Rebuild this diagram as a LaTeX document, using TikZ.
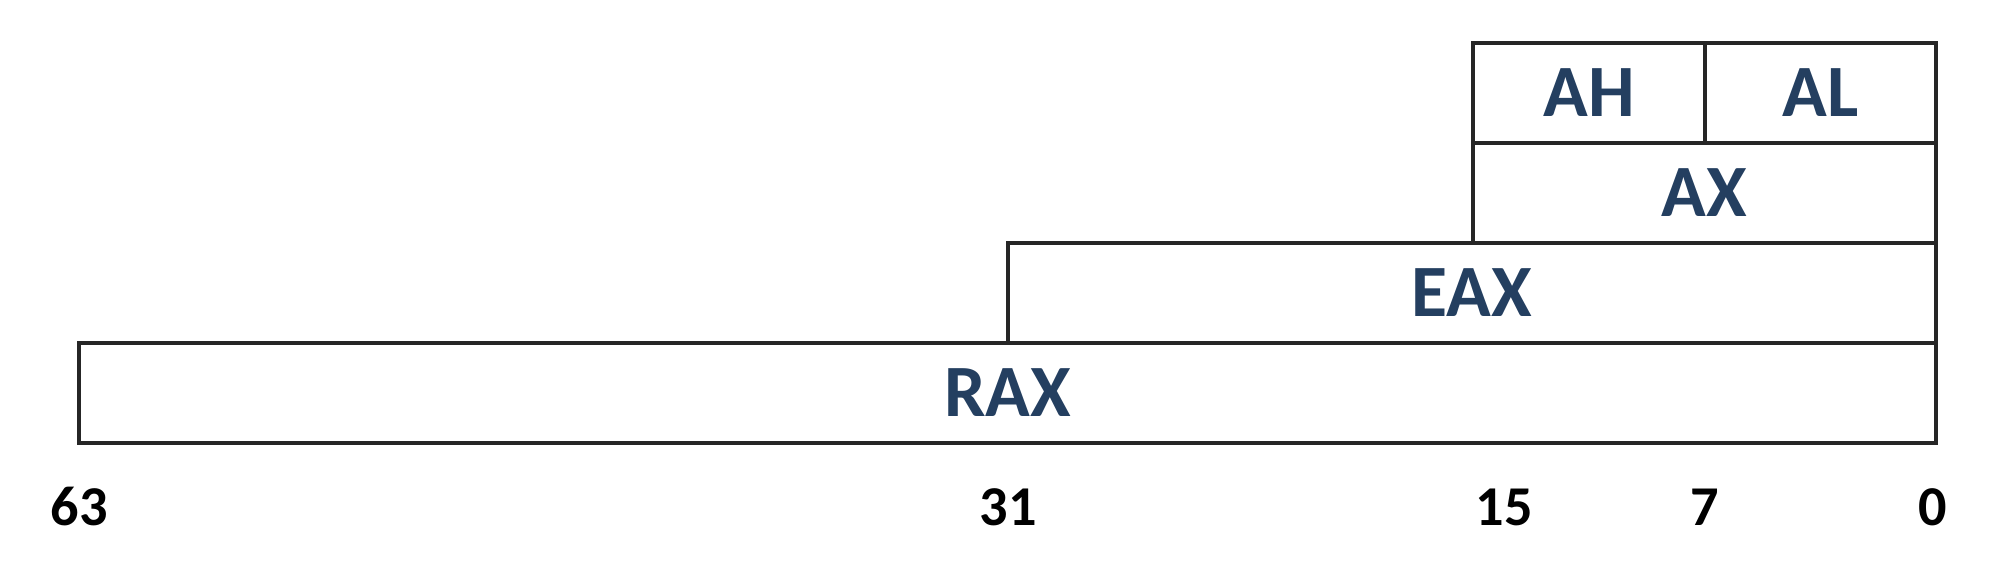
\documentclass[tikz,border=0pt]{standalone}
\usepackage{fontspec}
\setmainfont{Carlito}
\definecolor{regblue}{HTML}{243F60}
\definecolor{edge}{HTML}{262626}
\begin{document}
\begin{tikzpicture}[
  reg/.style={draw=edge, line width=1.3pt, inner sep=0pt, outer sep=0pt,
    minimum height=1cm, font=\bfseries\fontsize{21}{23}\selectfont, text=regblue},
  bitnum/.style={font=\bfseries\fontsize{16}{18}\selectfont, text=black, inner sep=0pt}
]
\useasboundingbox (0,0) rectangle (20,-5.7);
\node[reg, minimum width=4.63cm]  (ax)  at (17.045,-1.93) {AX};
\node[reg, minimum width=2.32cm]  (ah)  at (15.89,-0.93) {AH};
\node[reg, minimum width=2.31cm]  (al)  at (18.205,-0.93) {AL};
\node[reg, minimum width=9.28cm]  (eax) at (14.72,-2.93) {EAX};
\node[reg, minimum width=18.57cm] (rax) at (10.075,-3.93) {RAX};
\node[bitnum] (b63) at (0.79,-5.07) {63};
\node[bitnum] (b31) at (10.08,-5.07) {31};
\node[bitnum] (b15) at (15.04,-5.07) {15};
\node[bitnum] (b7)  at (17.05,-5.07) {7};
\node[bitnum] (b0)  at (19.33,-5.07) {0};
\end{tikzpicture}
\end{document}
